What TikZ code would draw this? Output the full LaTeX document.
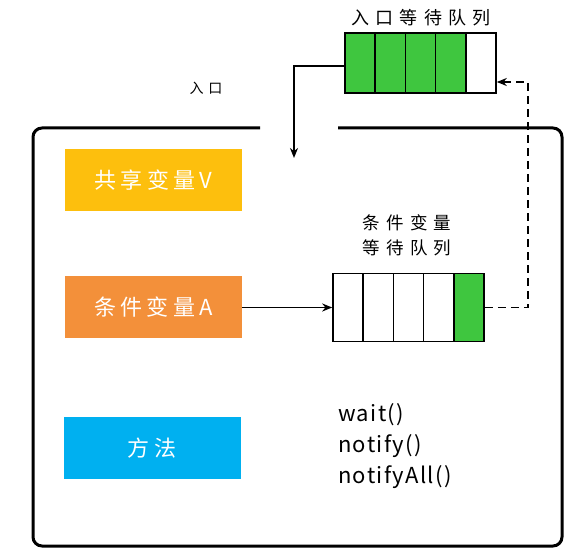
\documentclass[tikz,border=0pt]{standalone}
\usepackage{fontspec}
\setmainfont{Noto Sans CJK SC}
\newfontfamily\cjkwide[LetterSpace=20]{Noto Sans CJK SC}
\newfontfamily\cjkmid[LetterSpace=35]{Noto Sans CJK SC}
\newfontfamily\latwide[LetterSpace=6]{Noto Sans CJK SC}
\usetikzlibrary{arrows.meta}
\definecolor{myyellow}{HTML}{FDBF0D}
\definecolor{myorange}{HTML}{F3903A}
\definecolor{myblue}{HTML}{00B0F0}
\definecolor{mygreen}{HTML}{3FC63F}
\tikzset{
  colorbox/.style={minimum width=177pt,minimum height=62pt,inner sep=0pt,text=white,font=\fontsize{22}{24}\selectfont\cjkwide},
  cell/.style={draw=black,line width=1.6pt,minimum width=30.2pt,minimum height=60pt,inner sep=0pt},
  conn/.style={line width=1.9pt,-{Stealth[length=10pt,width=8pt]}},
  lbl/.style={font=\fontsize{17.5}{20}\selectfont\cjkmid,inner sep=0pt},
}
\begin{document}
\begin{tikzpicture}[x=1pt,y=-1pt]
\useasboundingbox (0,0) rectangle (587,553);
% outer frame with gap
\draw[line width=3pt,rounded corners=9pt] (260,128) -- (33,128) -- (33,546) -- (562,546) -- (562,128) -- (338,128);
% colored boxes
\node[colorbox,fill=myyellow] (v) at (153.5,180.5) {共享变量V};
\node[colorbox,fill=myorange] (a) at (153.5,307.5) {条件变量A};
\node[colorbox,fill=myblue] (m) at (152,448) {方法};
% entry queue
\foreach \i in {1,...,4}{
  \node[cell,fill=mygreen] (e\i) at ({345+15.1+30.2*(\i-1)},63) {};
}
\node[cell,fill=white] (e5) at ({345+15.1+30.2*4},63) {};
\node[lbl,font=\fontsize{18}{20}\selectfont\cjkmid] (et) at (421,18) {入口等待队列};
% condition queue
\foreach \i in {1,...,4}{
  \node[cell,fill=white,minimum height=68pt] (c\i) at ({333+15.1+30.2*(\i-1)},307.5) {};
}
\node[cell,fill=mygreen,minimum height=68pt] (c5) at ({333+15.1+30.2*4},307.5) {};
\node[lbl,align=center] (ct) at (407,235) {条件变量\\[5pt]等待队列};
% entry label
\node[font=\fontsize{14}{16}\selectfont\cjkmid,inner sep=0pt] (in) at (206,88) {入口};
% methods
\node[anchor=west,align=left,font=\fontsize{22}{31}\selectfont\latwide,inner sep=0pt] (meth) at (338,446) {wait()\\notify()\\notifyAll()};
% connectors
\coordinate (tip) at (294,158);
\draw[conn] (e1.west |- 0,66) -| (tip);
\draw[conn] (a.east) -- (c1.west);
\coordinate (corner) at (528,307.5);
\draw[line width=1.9pt,dash pattern=on 8pt off 5pt,-{Stealth[length=10pt,width=8pt]}] (c5.east) -- (corner) -- (528,82) -- (e5.east |- 0,82);
\end{tikzpicture}
\end{document}
